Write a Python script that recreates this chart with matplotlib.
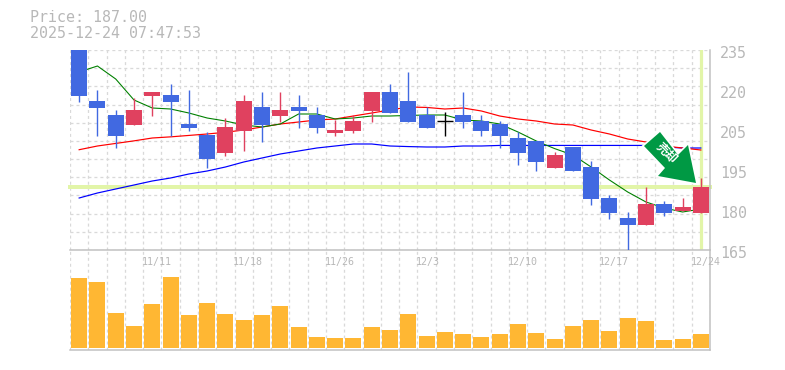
import matplotlib
matplotlib.use("Agg")
import matplotlib.pyplot as plt
from matplotlib.patches import Polygon

W, H = 785, 370
open_ = [235,217.15,212.25,208.75,218.9,219.25,209.1,205.25,198.95,206.65,215.05,211.9,215.05,212.25,205.95,206.65,213.65,220.3,
         217.15,212.25,210.15,212.25,210.15,209.1,204.2,203.15,193.7,201.05,194.05,183.2,176.2,173.75,181.1,178.65,177.95]
close = [218.9,214.7,204.9,214,220.3,216.8,207.7,196.85,208.05,217.15,208.75,214,213.65,207.7,207,210.15,220.3,212.95,
         209.8,207.7,210.15,209.8,206.65,204.9,198.95,195.8,198.25,192.65,182.85,177.95,173.75,181.1,177.95,180.05,187]
high = [235,221,214,218.1,220.3,223.1,221,206.3,211.2,219.25,220.3,220.3,219.25,215.05,210.5,212.25,220.3,223.1,
        227.3,215.05,213.3,220.3,212.25,210.15,206.3,203.15,199.3,201.05,196.15,184.25,178.3,187,182.15,183.2,190.2]
low = [216.9,204.9,200.7,208.75,211.9,204.9,206.65,193.7,197.9,199.65,202.8,209.8,207.7,205.95,204.9,205.95,209.8,212.95,
       209.8,207.7,204.9,207.7,204.9,200.7,194.75,192.65,193.7,192.65,180.75,175.85,165,173.75,176.9,178.65,177.95]
ma_short = [227.3,229.4,224.85,217.5,214.7,214.35,212.95,211.2,210.15,208.75,208.05,209.1,212.6,212.6,210.85,211.2,211.9,211.9,
            212.1,212.25,212.25,210.5,210.15,209.1,206.3,203.15,200.5,198.25,194.05,189.5,185.3,181.8,179.7,178.3,179.35]
ma_mid = [200.1,201.4,202.3,203.2,204.2,204.6,205.1,205.6,206.2,207,208.05,209.1,209.8,210.5,210.85,211.9,212.95,214,
          215.05,214.9,214.35,214.7,213.65,211.9,210.85,210.15,209.1,208.75,207,205.6,203.85,202.8,201.4,200.7,200]
ma_long = [183.2,184.95,186.35,187.75,189.15,190.2,191.6,192.65,194.05,195.8,197.2,198.6,199.65,200.7,201.4,202.1,202.1,201.4,
           201.2,201.05,201.05,201.4,201.4,201.6,201.6,201.6,201.6,201.6,201.6,201.6,201.6,201.6,201.05,200.7,200.7]
volume = [70,66,35,22,44,71,33,45,34,28,33,42,21,11,10,10,21,18,34,12,16,14,11,14,24,15,9,22,28,17,30,27,8,9,14]
price_ticks = [165,179,193,207,221,235]
price_labels = ["165","180","195","205","220","235"]
date_slots = [4,9,14,19,24,29,34]
date_labels = ["11/11","11/18","11/26","12/3","12/10","12/17","12/24"]
last_price = 187
title_lines = ["Price: 187.00","2025-12-24 07:47:53"]

RED, BLUE, GRID, AXC, TXT, BAND = "#e0415f","#4169e1","#d9d9d9","#c0c0c0","#b8b8b8","#e2f5a8"
PX = 0.72

fig = plt.figure(figsize=(W/100,H/100),dpi=100)
def box(x0,y0,x1,y1):
    return [x0/W,1-y1/H,(x1-x0)/W,(y1-y0)/H]
ax = fig.add_axes(box(70,50,710,250))
av = fig.add_axes(box(70,250,710,350))
av.patch.set_visible(False)
n = len(close)
xs = [i+0.5 for i in range(n)]

for a in (ax,av):
    a.set_xlim(0,n)
    a.set_xticks(range(n+1))
    a.tick_params(left=False,bottom=False,right=False,top=False,labelleft=False,labelbottom=False)
    a.grid(True,axis="x",color=GRID,lw=1.3*PX,ls=(0,(2.3,2.3)),zorder=0)
    a.set_axisbelow(True)
    for s in ("left","top"):
        a.spines[s].set_visible(False)
    for s in ("right","bottom"):
        a.spines[s].set_color(AXC); a.spines[s].set_linewidth(1.5*PX)

ax.set_ylim(165,235)
ax.set_yticks([165+70/11*k for k in range(12)])
ax.grid(True,axis="y",color=GRID,lw=1.3*PX,ls=(0,(2.3,2.3)),zorder=0)

ax.axhline(last_price,color=BAND,lw=4*PX,zorder=1,clip_on=False)
ax.axvline(xs[-1],ymin=0.005,ymax=0.995,color=BAND,lw=3.2*PX,zorder=1)

for vals,c,w in ((ma_long,"#0000ff",1.2),(ma_mid,"#ff0000",1.2),(ma_short,"#008000",1.1)):
    ax.plot(xs,vals,color=c,lw=w*PX,zorder=2,solid_joinstyle="round")

for x,o,c_,h,l in zip(xs,open_,close,high,low):
    col = "black" if o==c_ else (RED if c_>o else BLUE)
    ax.vlines(x,l,h,color=col,lw=1.4*PX,zorder=3)
    if o==c_:
        ax.hlines(o,x-0.44,x+0.44,color=col,lw=1.4*PX,zorder=3)
    else:
        ax.bar(x,abs(c_-o),bottom=min(o,c_),width=0.875,color=col,lw=0,zorder=3)

av.set_ylim(-2,98)
av.bar(xs,volume,width=0.875,color="#ffb733",lw=0,zorder=3)
av.set_yticks([])

for v,t in zip(price_ticks,price_labels):
    ax.annotate(t,xy=(1,v),xycoords=("axes fraction","data"),xytext=(7.2,-2.2),textcoords="offset points",
                va="center",ha="left",color=TXT,fontsize=10.8,family="DejaVu Sans Mono",annotation_clip=False)
for k,t in zip(date_slots,date_labels):
    av.annotate(t,xy=(k,1),xycoords=("data","axes fraction"),xytext=(-1,-8.6),textcoords="offset points",
                va="center",ha="left",color=TXT,fontsize=7.2,family="DejaVu Sans Mono",annotation_clip=False,zorder=5)

for t,y in zip(title_lines,(18,33)):
    fig.text(30/W,1-y/H,t,color=TXT,fontsize=10.8,family="DejaVu Sans Mono",va="center",ha="left")

arrow = [(660,132),(644,146),(665,168),(658,176),(696,183),(688,145),(678,155)]
pts = [(x/W,1-y/H) for x,y in arrow]
fig.add_artist(Polygon(pts,closed=True,transform=fig.transFigure,facecolor="#009944",edgecolor="white",lw=2.4,zorder=10,joinstyle="miter"))
fig.add_artist(Polygon(pts,closed=True,transform=fig.transFigure,facecolor="#009944",edgecolor="none",zorder=11))
fig.text(666.5/W,1-153.5/H,"売却",color="white",fontsize=8.6,fontweight="bold",rotation=-45,
         family=["Noto Sans CJK JP","DejaVu Sans"],ha="center",va="center",rotation_mode="anchor",zorder=12)

fig.savefig("out.png",dpi=100)
